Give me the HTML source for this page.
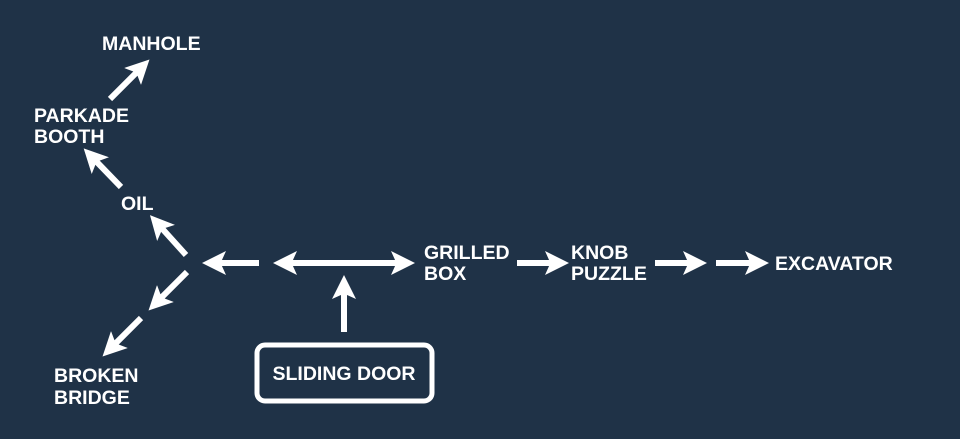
<!DOCTYPE html>
<html><head><meta charset="utf-8"><style>
html,body{margin:0;padding:0;background:#1f3247;}
svg{display:block}
text{font-family:"Liberation Sans",Arial,sans-serif;font-weight:bold;fill:#fff;font-size:19.5px}
</style></head><body>
<svg width="960" height="439" viewBox="0 0 960 439">
<rect width="960" height="439" fill="#1f3247"/>
<defs>
<marker id="a" markerWidth="4" markerHeight="4" refX="2" refY="2" orient="auto" markerUnits="strokeWidth">
<path d="M0,0 L4,2 L0,4 L0.9,2 Z" fill="#fff"/></marker>
</defs>
<g stroke="#fff" stroke-width="6" fill="none" marker-end="url(#a)">
<line x1="110" y1="99" x2="141" y2="68"/>
<line x1="121" y1="187" x2="92" y2="157"/>
<line x1="186" y1="255" x2="158" y2="224"/>
<line x1="259" y1="263" x2="214" y2="263"/>
<line x1="300" y1="263" x2="403" y2="263"/>
<line x1="390" y1="263" x2="285" y2="263"/>
<line x1="344" y1="332" x2="344" y2="287"/>
<line x1="187" y1="272" x2="157" y2="302"/>
<line x1="141" y1="318" x2="111" y2="348"/>
<line x1="517" y1="263" x2="557" y2="263"/>
<line x1="655" y1="263" x2="695" y2="263"/>
<line x1="716" y1="263" x2="757" y2="263"/>
</g>
<rect x="257" y="345" width="175" height="56" rx="8" fill="none" stroke="#fff" stroke-width="5"/>
<text x="344" y="380" text-anchor="middle">SLIDING DOOR</text>
<text x="102" y="50">MANHOLE</text>
<text x="34" y="122">PARKADE</text>
<text x="34" y="143">BOOTH</text>
<text x="121" y="210">OIL</text>
<text x="54" y="382">BROKEN</text>
<text x="54" y="404">BRIDGE</text>
<text x="424" y="259">GRILLED</text>
<text x="424" y="280">BOX</text>
<text x="571" y="259">KNOB</text>
<text x="571" y="280">PUZZLE</text>
<text x="775" y="270">EXCAVATOR</text>
</svg>
</body></html>
